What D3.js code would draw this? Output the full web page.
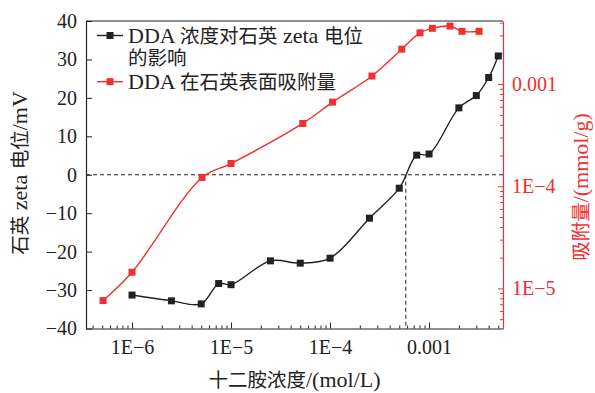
<!DOCTYPE html>
<html>
<head>
<meta charset="utf-8">
<script src="https://cdn.jsdelivr.net/npm/d3@7"></script>
<style>
  body { margin: 0; background: #fff; }
  text { font-family: "Liberation Serif", "Noto Sans CJK SC", serif; }
</style>
</head>
<body>
<div id="chart"></div>
<script>
// DDA concentration (mol/L) vs zeta potential (mV)
var zetaConc = [1e-6, 2.5e-6, 5e-6, 7.5e-6, 1e-5, 2.5e-5, 5e-5, 1e-4, 2.5e-4, 5e-4, 7.5e-4, 1e-3, 2e-3, 3e-3, 4e-3, 5e-3];
var zetaVals = [-31.3, -32.8, -33.6, -28.3, -28.6, -22.4, -23.0, -21.7, -11.3, -3.5, 5.1, 5.4, 17.4, 20.6, 25.3, 30.9];

// DDA concentration (mol/L) vs adsorption (mmol/g)
var adsConc = [5.1e-7, 1e-6, 5.1e-6, 1e-5, 5.3e-5, 1.06e-4, 2.65e-4, 5.3e-4, 8.1e-4, 1.08e-3, 1.63e-3, 2.15e-3, 3.2e-3];
var adsVals = [7.6e-6, 1.44e-5, 1.22e-4, 1.67e-4, 4.12e-4, 6.67e-4, 1.2e-3, 2.2e-3, 3.18e-3, 3.52e-3, 3.7e-3, 3.29e-3, 3.29e-3];

var xMajor = [1e-6, 1e-5, 1e-4, 1e-3];
var xLabels = ["1E\u22126", "1E\u22125", "1E\u22124", "0.001"];
var yLeftTicks = [-40, -30, -20, -10, 0, 10, 20, 30, 40];
var yRightMajor = [1e-5, 1e-4, 1e-3];
var yRightLabels = ["1E\u22125", "1E\u22124", "0.001"];
var zeroCross = 5.82e-4;

var legendNames = ["DDA 浓度对石英 zeta 电位", "的影响", "DDA 在石英表面吸附量"];

var red = "#ee3030",
    dark = "#222";

// plot box (pixels)
var W = 595, H = 393,
    pL = 86, pR = 503, pT = 21, pB = 328.5;

var cjkSize = 19.5, latinSize = 22, tickSize = 20;

var svg = d3.select("#chart").append("svg")
    .attr("width", W)
    .attr("height", H);

var x = d3.scaleLog().domain([3.43e-7, 5.58e-3]).range([pL, pR]);
var yL = d3.scaleLinear().domain([-40, 40]).range([pB, pT]);
var yR = d3.scaleLog().domain([4.05e-6, 4.15e-3]).range([pB, pT]);

// minor tick values for the log axes
function minors(lo, hi) {
    let out = [];
    for (let e = -8; e <= -1; e++) {
        for (let m = 2; m <= 9; m++) {
            let v = m * Math.pow(10, e);
            if (v > lo && v < hi) out.push(v);
        }
    }
    return out;
}

// split a string into CJK / latin runs, latin is set a bit larger (like the original figure)
function mixedText(textSel, str, firstAttrs) {
    let first = true;
    str.split(/([\u3000-\u9fff\uff00-\uffef]+)/).forEach(function(part) {
        if (!part) return;
        let isCjk = /[\u3000-\u9fff\uff00-\uffef]/.test(part);
        let ts = textSel.append("tspan")
            .style("font-size", (isCjk ? cjkSize : latinSize) + "px")
            .style("font-family", isCjk ? "'Noto Sans CJK SC'" : "'Liberation Serif'")
            .text(part);
        if (first && firstAttrs) {
            for (let k in firstAttrs) ts.attr(k, firstAttrs[k]);
        }
        first = false;
    });
    return textSel;
}

// top frame line
svg.append("line")
    .attr("x1", pL).attr("x2", pR)
    .attr("y1", pT).attr("y2", pT)
    .attr("stroke", dark).attr("stroke-width", 1.2);

// bottom axis
svg.append("g")
    .attr("transform", "translate(0," + pB + ")")
    .call(d3.axisBottom(x).tickValues(minors(3.43e-7, 5.58e-3)).tickSize(-3).tickSizeOuter(0).tickFormat(""))
    .call(g => g.select(".domain").remove())
    .call(g => g.selectAll("line").attr("stroke", dark));

svg.append("g")
    .attr("transform", "translate(0," + pB + ")")
    .call(d3.axisBottom(x).tickValues(xMajor).tickSize(-6).tickSizeOuter(0).tickPadding(11)
        .tickFormat((d, i) => xLabels[i]))
    .call(g => g.select(".domain").attr("stroke", dark).attr("stroke-width", 1.2))
    .call(g => g.selectAll("line").attr("stroke", dark))
    .call(g => g.selectAll("text").attr("fill", "#222").style("font-size", tickSize + "px")
        .style("font-family", "Liberation Serif"));

// left axis
svg.append("g")
    .attr("transform", "translate(" + pL + ",0)")
    .call(d3.axisLeft(yL).tickValues(yLeftTicks).tickSize(-6).tickSizeOuter(0).tickPadding(9)
        .tickFormat(d3.format("d")))
    .call(g => g.select(".domain").attr("stroke", dark).attr("stroke-width", 1.2))
    .call(g => g.selectAll("line").attr("stroke", dark))
    .call(g => g.selectAll("text").attr("fill", "#222").style("font-size", tickSize + "px")
        .style("font-family", "Liberation Serif"));

// right axis
svg.append("g")
    .attr("transform", "translate(" + pR + ",0)")
    .call(d3.axisRight(yR).tickValues(minors(4.05e-6, 4.15e-3)).tickSize(-3).tickSizeOuter(0).tickFormat(""))
    .call(g => g.select(".domain").remove())
    .call(g => g.selectAll("line").attr("stroke", red));

svg.append("g")
    .attr("transform", "translate(" + pR + ",0)")
    .call(d3.axisRight(yR).tickValues(yRightMajor).tickSize(-5).tickSizeOuter(0).tickPadding(9)
        .tickFormat((d, i) => yRightLabels[i]))
    .call(g => g.select(".domain").attr("stroke", red).attr("stroke-width", 1.2))
    .call(g => g.selectAll("line").attr("stroke", red))
    .call(g => g.selectAll("text").attr("fill", red).style("font-size", tickSize + "px")
        .style("font-family", "Liberation Serif"));

// dashed guide lines at zeta = 0
svg.append("line")
    .attr("x1", pL).attr("x2", pR)
    .attr("y1", yL(0)).attr("y2", yL(0))
    .attr("stroke", dark).attr("stroke-width", 1)
    .attr("stroke-dasharray", "4,3");

svg.append("line")
    .attr("x1", x(zeroCross)).attr("x2", x(zeroCross))
    .attr("y1", yL(0)).attr("y2", pB)
    .attr("stroke", dark).attr("stroke-width", 1)
    .attr("stroke-dasharray", "4,3");

// series
let zetaData = zetaConc.map((c, i) => ({ c: c, v: zetaVals[i] }));
let adsData = adsConc.map((c, i) => ({ c: c, v: adsVals[i] }));

let zetaLine = d3.line()
    .x(d => x(d.c)).y(d => yL(d.v))
    .curve(d3.curveCatmullRom.alpha(0.5));

let adsLine = d3.line()
    .x(d => x(d.c)).y(d => yR(d.v))
    .curve(d3.curveCatmullRom.alpha(0.5));

svg.append("path")
    .datum(adsData)
    .attr("d", adsLine)
    .attr("fill", "none")
    .attr("stroke", red)
    .attr("stroke-width", 1.4);

svg.append("path")
    .datum(zetaData)
    .attr("d", zetaLine)
    .attr("fill", "none")
    .attr("stroke", dark)
    .attr("stroke-width", 1.4);

let ms = 7;

svg.selectAll(".ads")
    .data(adsData)
    .enter().append("rect")
    .attr("class", "ads")
    .attr("x", d => x(d.c) - ms / 2)
    .attr("y", d => yR(d.v) - ms / 2)
    .attr("width", ms).attr("height", ms)
    .attr("fill", red);

svg.selectAll(".zeta")
    .data(zetaData)
    .enter().append("rect")
    .attr("class", "zeta")
    .attr("x", d => x(d.c) - ms / 2)
    .attr("y", d => yL(d.v) - ms / 2)
    .attr("width", ms).attr("height", ms)
    .attr("fill", dark);

// legend (first entry wraps onto a second line inside the same text)
let legend = svg.append("g").attr("class", "legend");
let legendRows = [
    { y: 35.5, color: dark, lines: [legendNames[0], legendNames[1]] },
    { y: 81.7, color: red, lines: [legendNames[2]] }
];

legendRows.forEach(function(r) {
    legend.append("line")
        .attr("x1", 97).attr("x2", 123)
        .attr("y1", r.y).attr("y2", r.y)
        .attr("stroke", r.color).attr("stroke-width", 1.4);
    legend.append("rect")
        .attr("x", 110 - ms / 2).attr("y", r.y - ms / 2)
        .attr("width", ms).attr("height", ms)
        .attr("fill", r.color);
    let txt = legend.append("text")
        .attr("x", 128)
        .attr("y", r.y + 7)
        .attr("fill", "#222");
    r.lines.forEach(function(t, i) {
        mixedText(txt, t, i > 0 ? { x: 128, dy: 22.5 } : null);
    });
});

// axis titles
mixedText(svg.append("text")
    .attr("transform", "translate(" + (pL + pR) / 2 + ",387)")
    .attr("text-anchor", "middle")
    .attr("fill", "#222"), "十二胺浓度/(mol/L)");

mixedText(svg.append("text")
    .attr("transform", "translate(27,173) rotate(-90)")
    .attr("text-anchor", "middle")
    .attr("fill", "#222"), "石英 zeta 电位/mV");

mixedText(svg.append("text")
    .attr("transform", "translate(588,187) rotate(-90)")
    .attr("text-anchor", "middle")
    .attr("fill", red), "吸附量/(mmol/g)");
</script>
</body>
</html>
